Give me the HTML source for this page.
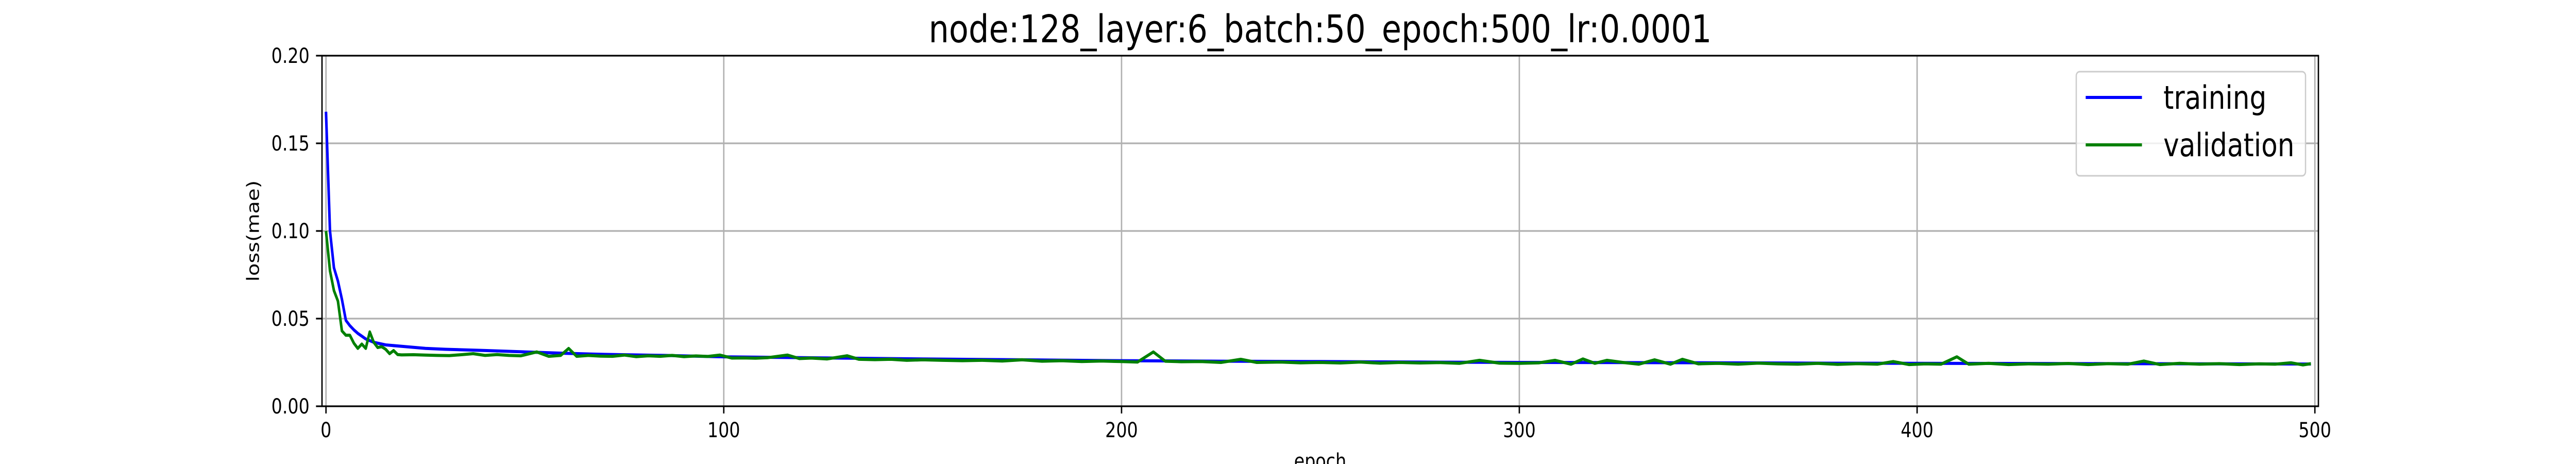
<!DOCTYPE html>
<html><head><meta charset="utf-8"><style>
html,body{margin:0;padding:0;background:#fff;width:100%;height:100%;overflow:hidden;}
svg{display:block;width:100vw;height:100vh;font-family:"DejaVu Sans","Liberation Sans",sans-serif;}
</style></head><body>
<svg id="chart" viewBox="0 0 6000 900" preserveAspectRatio="none">
<rect x="0" y="0" width="6000" height="900" fill="#fff"/>
<text x="3075" y="82" font-size="74" text-anchor="middle" textLength="1824" lengthAdjust="spacingAndGlyphs">node:128_layer:6_batch:50_epoch:500_lr:0.0001</text>
<g id="grid"></g>
<g id="series"></g>
<rect x="750" y="108" width="4650" height="680" fill="none" stroke="#000" stroke-width="3.2"/>
<g id="ticks"></g>
<text x="0" y="0" font-size="40" text-anchor="middle" transform="translate(603,448) rotate(-90)">loss(mae)</text>
<text x="3075" y="908" font-size="40" text-anchor="middle">epoch</text>
<g>
<rect x="4836" y="139" width="534" height="202" rx="8" fill="#fff" fill-opacity="0.8" stroke="#ccc" stroke-width="3"/>
<line x1="4858" y1="189" x2="4989" y2="189" stroke="#0000ff" stroke-width="6"/>
<text x="5039" y="211" font-size="62">training</text>
<line x1="4858" y1="281" x2="4989" y2="281" stroke="#008000" stroke-width="6"/>
<text x="5039" y="303" font-size="62">validation</text>
</g>
</svg>
<script>
const xTicks=[0,100,200,300,400,500];
const yTicks=[0.00,0.05,0.10,0.15,0.20];
const yTickLabels=["0.00","0.05","0.10","0.15","0.20"];
const trainEpochs=[0,1,2,3,4,5,6,7,8,9,10,12,15,20,25,30,40,50,60,70,85,100,125,150,175,200,225,250,275,300,325,350,375,400,425,450,475,499];
const trainValues=[0.168,0.100,0.079,0.0714,0.061,0.049,0.046,0.0436,0.0416,0.040,0.0384,0.0365,0.035,0.034,0.033,0.0325,0.0318,0.031,0.0302,0.0296,0.029,0.0282,0.0276,0.027,0.0265,0.026,0.0257,0.0255,0.0252,0.025,0.0249,0.0248,0.0246,0.0245,0.0244,0.0243,0.0242,0.0241];
const valEpochs=[0,1,2,3,4,5,6,7,8,9,10,11,12,13,14,15,16,17,18,19,22,25,28,31,34,37,40,43,46,49,53,56,59,61,63,66,69,72,75,78,81,84,87,90,93,96,99,102,105,108,111,116,119,122,126,131,134,138,142,146,150,155,160,165,170,175,180,185,190,195,200,204,208,211,215,220,225,230,234,240,245,250,255,260,265,270,275,280,285,290,295,300,305,309,313,316,319,322,326,330,334,338,341,345,350,355,360,365,370,375,380,385,390,394,398,402,406,410,413,418,423,428,433,438,443,448,453,457,461,466,471,476,481,486,490,494,497,499];
const valValues=[0.100,0.0773,0.066,0.060,0.043,0.0405,0.0405,0.036,0.0330,0.0355,0.033,0.0424,0.0365,0.0335,0.034,0.0325,0.0300,0.0318,0.0295,0.0293,0.0294,0.0292,0.0290,0.0289,0.0294,0.0300,0.0290,0.0295,0.0290,0.0288,0.0310,0.0285,0.0290,0.0330,0.0285,0.0290,0.0286,0.0285,0.0292,0.0283,0.0288,0.0285,0.0290,0.0283,0.0287,0.0284,0.0292,0.0275,0.0276,0.0274,0.0277,0.0292,0.0272,0.0275,0.0270,0.0288,0.0268,0.0266,0.0268,0.0262,0.0265,0.0262,0.0260,0.0262,0.0258,0.0265,0.0257,0.0260,0.0255,0.0258,0.0255,0.0252,0.0310,0.0257,0.0254,0.0255,0.0250,0.0268,0.0250,0.0252,0.0248,0.0250,0.0247,0.0252,0.0246,0.0250,0.0247,0.0249,0.0245,0.0262,0.0246,0.0245,0.0248,0.0262,0.0240,0.0270,0.0245,0.0262,0.0250,0.0240,0.0265,0.0240,0.0268,0.0242,0.0245,0.0240,0.0246,0.0242,0.0240,0.0245,0.0239,0.0243,0.0240,0.0255,0.0238,0.0242,0.0240,0.0282,0.0240,0.0245,0.0238,0.0242,0.0240,0.0244,0.0238,0.0243,0.0240,0.0258,0.0238,0.0245,0.0240,0.0243,0.0238,0.0242,0.0240,0.0248,0.0236,0.0243];
const L=750,R=5400,T=108,B=788;
function xs(e){return 759.3+e*9.265;}
function ys(v){return B-(v/0.2)*(B-T);}
const NS="http://www.w3.org/2000/svg";
const grid=document.getElementById('grid'),ticks=document.getElementById('ticks'),series=document.getElementById('series');
xTicks.forEach(t=>{
 const g=document.createElementNS(NS,'line');
 g.setAttribute('x1',xs(t));g.setAttribute('x2',xs(t));g.setAttribute('y1',T);g.setAttribute('y2',B);
 g.setAttribute('stroke','#b0b0b0');g.setAttribute('stroke-width','3.2');
 
 
 grid.appendChild(g);
 const tk=document.createElementNS(NS,'line');
 tk.setAttribute('x1',xs(t));tk.setAttribute('x2',xs(t));tk.setAttribute('y1',B);tk.setAttribute('y2',B+14);
 tk.setAttribute('stroke','#000');tk.setAttribute('stroke-width','3.2');
 
 
 ticks.appendChild(tk);
 const tx=document.createElementNS(NS,'text');
 tx.setAttribute('x',xs(t));tx.setAttribute('y',848);tx.setAttribute('font-size','40');tx.setAttribute('text-anchor','middle');
 tx.textContent=String(t);
 
 
 ticks.appendChild(tx);
});
yTicks.forEach((t,i)=>{
 const g=document.createElementNS(NS,'line');
 g.setAttribute('x1',L);g.setAttribute('x2',R);g.setAttribute('y1',ys(t));g.setAttribute('y2',ys(t));
 g.setAttribute('stroke','#b0b0b0');g.setAttribute('stroke-width','3.2');
 
 
 grid.appendChild(g);
 const tk=document.createElementNS(NS,'line');
 tk.setAttribute('x1',L-14);tk.setAttribute('x2',L);tk.setAttribute('y1',ys(t));tk.setAttribute('y2',ys(t));
 tk.setAttribute('stroke','#000');tk.setAttribute('stroke-width','3.2');
 
 
 ticks.appendChild(tk);
 const tx=document.createElementNS(NS,'text');
 tx.setAttribute('x',721);tx.setAttribute('y',ys(t)+14);tx.setAttribute('font-size','40');tx.setAttribute('text-anchor','end');
 tx.textContent=yTickLabels[i];
 
 
 ticks.appendChild(tx);
});
function line(ep,vals,color,name){
 const p=document.createElementNS(NS,'polyline');
 p.setAttribute('points',ep.map((e,i)=>xs(e).toFixed(1)+','+ys(vals[i]).toFixed(1)).join(' '));
 p.setAttribute('fill','none');p.setAttribute('stroke',color);p.setAttribute('stroke-width','6');p.setAttribute('stroke-linejoin','round');
 
 
 series.appendChild(p);
}
line(trainEpochs,trainValues,'#0000ff','training-line');
line(valEpochs,valValues,'#008000','validation-line');
</script>
</body></html>
